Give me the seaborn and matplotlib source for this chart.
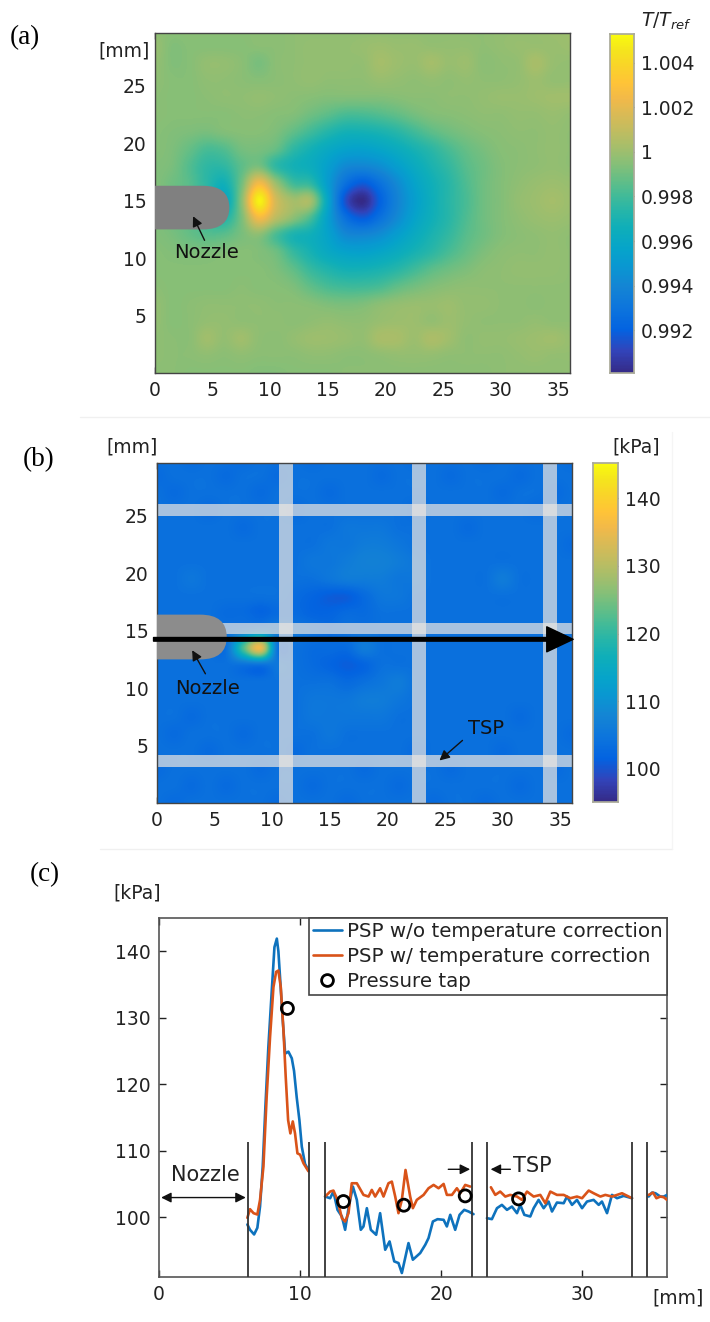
# temperature map, PSP pressure map and line profile, three stacked panels

import numpy as np
import pandas as pd
import seaborn as sns
import matplotlib.pyplot as plt
from matplotlib.colors import LinearSegmentedColormap
from matplotlib.lines import Line2D
from matplotlib.patches import PathPatch, Rectangle
from matplotlib.path import Path

W, H = 710, 1322

# matlab parula, some entries of the 64 colour table with their table index
parula_index = [1, 5, 9, 13, 17, 21, 24, 28, 31, 34, 37, 40, 43, 46, 49, 52, 55, 58, 61, 64]
parula = [(0.2081, 0.1663, 0.5292), (0.1959, 0.2645, 0.7279), (0.0117, 0.3875, 0.8820),
          (0.0498, 0.4586, 0.8641), (0.0793, 0.5200, 0.8312), (0.0343, 0.5966, 0.8199),
          (0.0231, 0.6418, 0.7913), (0.0590, 0.6838, 0.7254), (0.1453, 0.7098, 0.6646),
          (0.2586, 0.7317, 0.5954), (0.3953, 0.7459, 0.5244), (0.5300, 0.7491, 0.4661),
          (0.6473, 0.7456, 0.4188), (0.7525, 0.7384, 0.3768), (0.8507, 0.7299, 0.3360),
          (0.9450, 0.7261, 0.2886), (0.9990, 0.7653, 0.2164), (0.9789, 0.8271, 0.1633),
          (0.9589, 0.8949, 0.1132), (0.9763, 0.9831, 0.0538)]

# grid spacing 1.5 mm, columns x = 0..36, rows y = 30..0
grid_step = 1.5

# panel a, (T/Tref - 1) * 1e4
t_offset = [
    [-4, -4, -4, -4, -4, -4, -4, -4, -3, -3, -3, -3, -3, -3, -3, -3, -3, -3, -3, -3, -2, -2, -1, 0, 0],
    [-1, -6, -5, -5, -5, -5, -4, -4, -3, -2, -2, -2, -1, 0, -1, -1, -2, -2, -2, -3, -2, -1, -1, -1, 0],
    [-2, -6, -5, -2, -2, -4, -8, -4, -3, -2, -2, -2, -2, 2, 0, -1, 2, -1, 0, -4, -3, -2, 3, -1, -2],
    [-3, -5, -5, -3, -3, -4, -5, -4, -3, -2, -3, -3, -3, -1, -2, -3, -2, -3, -2, -3, -3, -2, 0, -2, -2],
    [-4, -5, -5, -4, -3, -3, -2, -3, -4, -5, -6, -6, -6, -6, -5, -4, -4, -3, -3, -2, -1, -1, 0, 1, 1],
    [-4, -5, -5, -5, -5, -4, -4, -5, -6, -10, -14, -18, -18, -16, -13, -9, -6, -5, -4, -3, -3, -2, -2, -1, -2],
    [-5, -6, -7, -8, -6, -5, -5, -7, -13, -20, -27, -32, -32, -30, -26, -20, -14, -10, -7, -5, -4, -3, -3, -2, -3],
    [-5, -7, -12, -18, -16, -9, -8, -12, -24, -32, -39, -44, -45, -42, -37, -31, -25, -18, -12, -8, -5, -4, -3, -2, -3],
    [-6, -8, -16, -24, -24, -14, -8, -24, -32, -36, -46, -58, -60, -56, -47, -38, -30, -23, -15, -10, -6, -4, -3, -2, -3],
    [-6, -10, -15, -25, -33, -10, 25, 0, -20, -24, -48, -72, -82, -72, -58, -44, -34, -26, -17, -10, -6, -3, -1, 0, -1],
    [-5, -10, -15, -25, -40, -5, 50, 15, 2, 2, -42, -85, -99, -80, -62, -47, -35, -26, -18, -10, -6, -2, 0, 2, 0],
    [-6, -10, -14, -22, -28, -8, 25, 8, -4, -18, -46, -72, -82, -72, -58, -44, -34, -26, -17, -10, -6, -3, -1, 0, -1],
    [-6, -8, -12, -15, -14, -8, -4, -18, -30, -34, -44, -58, -60, -56, -47, -38, -30, -23, -15, -10, -6, -4, -3, -2, -3],
    [-5, -6, -7, -7, -6, -5, -6, -10, -22, -31, -39, -44, -45, -42, -37, -31, -25, -18, -12, -7, -4, -3, -3, -2, -3],
    [-5, -5, -5, -5, -5, -5, -5, -7, -13, -22, -28, -32, -32, -30, -26, -20, -14, -10, -7, -4, -3, -2, -2, -2, -3],
    [-4, -5, -5, -5, -5, -4, -5, -5, -7, -13, -18, -20, -20, -18, -13, -9, -6, -4, -3, -3, -3, -3, -3, -3, -3],
    [-2, -5, -4, -3, -3, -3, -3, -4, -4, -5, -7, -8, -7, -4, -2, -1, -1, 0, -2, -2, -3, -3, -4, -3, -3],
    [-2, -5, -4, -2, -2, -3, -3, -3, -4, -3, -2, -3, -3, -1, 0, 0, -2, 0, -2, -3, -3, -3, -2, -3, -3],
    [-3, -4, -4, 1, -2, 1, -3, -4, -2, 0, 0, -1, -2, 3, 3, 0, 4, 1, -3, -2, -2, -1, 0, 1, -1],
    [-3, -4, -4, -3, -4, -3, -4, -4, -4, -3, -3, -4, -4, -3, -2, -2, -2, -3, -3, -3, -3, -2, -1, -2, -2],
    [-4, -4, -5, -5, -5, -5, -6, -6, -5, -5, -5, -4, -4, -4, -4, -4, -4, -4, -4, -4, -3, -3, -3, -3, -3],
]
t_ticks = [0.992, 0.994, 0.996, 0.998, 1, 1.002, 1.004]
t_ticklabels = ["0.992", "0.994", "0.996", "0.998", "1", "1.002", "1.004"]

# panel b, kPa
p_map = [
    [104, 104, 103, 104, 104, 103, 104, 104, 104, 103, 104, 104, 104, 104, 104, 103, 104, 104, 104, 103, 104, 104, 104, 104, 103],
    [103, 104, 104, 104, 103, 104, 104, 103, 104, 104, 104, 104, 104, 103, 104, 104, 104, 103, 104, 104, 104, 103, 104, 104, 104],
    [104, 103, 104, 104, 104, 104, 103, 104, 104, 104, 103, 104, 104, 104, 104, 104, 104, 104, 104, 104, 103, 104, 104, 103, 104],
    [104, 104, 104, 103, 104, 104, 104, 104, 103, 104, 104, 104, 104, 104, 104, 103, 104, 104, 104, 104, 104, 104, 103, 104, 104],
    [104, 104, 104, 104, 104, 103, 104, 104, 104, 104, 104, 105, 105, 105, 104, 104, 104, 104, 103, 104, 104, 104, 104, 104, 104],
    [104, 104, 104, 104, 104, 104, 104, 104, 104, 104, 105, 105, 106, 106, 105, 104, 104, 104, 104, 104, 104, 104, 104, 104, 103],
    [104, 104, 104, 104, 104, 104, 104, 104, 104, 105, 105, 106, 107, 107, 106, 105, 104, 104, 104, 104, 104, 104, 104, 104, 104],
    [104, 104, 105, 104, 104, 104, 104, 104, 104, 104, 105, 106, 106, 106, 105, 105, 104, 104, 104, 104, 106, 104, 104, 104, 104],
    [104, 104, 104, 104, 104, 104, 104, 104, 103, 102, 101, 101, 103, 105, 105, 104, 104, 104, 104, 104, 104, 104, 104, 104, 104],
    [104, 104, 104, 104, 103, 103, 102, 103, 103, 102, 102, 103, 103, 104, 104, 104, 104, 104, 104, 104, 104, 104, 104, 104, 104],
    [104, 104, 104, 104, 104, 106, 108, 106, 105, 104, 103, 104, 104, 104, 104, 104, 104, 104, 104, 104, 104, 104, 104, 104, 104],
    [104, 104, 104, 104, 104, 122, 135, 104, 104, 103, 103, 103, 106, 104, 104, 104, 104, 104, 104, 104, 104, 104, 104, 104, 104],
    [104, 104, 104, 104, 104, 104, 104, 105, 104, 103, 102, 101, 102, 104, 104, 104, 104, 104, 104, 104, 104, 104, 104, 104, 104],
    [104, 104, 104, 104, 104, 104, 104, 104, 104, 104, 104, 103, 104, 105, 106, 104, 104, 104, 104, 104, 104, 104, 104, 104, 104],
    [104, 104, 104, 104, 104, 104, 104, 104, 104, 105, 105, 105, 106, 106, 105, 104, 104, 104, 104, 104, 104, 104, 104, 104, 104],
    [104, 104, 103, 104, 104, 104, 104, 104, 104, 105, 105, 105, 105, 105, 104, 104, 104, 104, 104, 104, 104, 103, 104, 104, 104],
    [104, 103, 104, 104, 104, 103, 104, 104, 104, 104, 105, 104, 104, 104, 104, 104, 104, 104, 104, 104, 104, 104, 104, 104, 103],
    [104, 104, 104, 103, 104, 104, 104, 104, 103, 104, 104, 104, 104, 104, 104, 103, 104, 104, 104, 104, 103, 104, 104, 104, 104],
    [103, 104, 104, 104, 104, 104, 103, 104, 104, 104, 104, 104, 103, 104, 104, 104, 104, 103, 104, 104, 104, 104, 104, 103, 104],
    [104, 104, 103, 104, 103, 104, 104, 104, 104, 103, 104, 104, 104, 104, 103, 104, 104, 104, 104, 104, 104, 103, 104, 104, 104],
    [104, 103, 104, 104, 104, 104, 104, 103, 104, 104, 104, 103, 104, 104, 104, 104, 103, 104, 104, 103, 104, 104, 104, 104, 104],
]
p_ticks = [100, 110, 120, 130, 140]

# TSP strips in panel b, mm
tsp_vertical = [(10.6, 11.8), (22.1, 23.3), (33.5, 34.7)]
tsp_horizontal = [(0, 36, 25.0, 26.0), (5.5, 36, 14.7, 15.7), (0, 36, 3.15, 4.15)]

# panel c, profile along the centre line, split where a TSP strip interrupts it
blue_x = [
    [6.26, 6.45, 6.74, 6.97, 7.16, 7.35, 7.54, 7.75, 7.99, 8.18, 8.35, 8.46, 8.58, 8.77, 8.94, 9.17, 9.41, 9.57, 9.76, 9.95, 10.12, 10.35, 10.59],
    [11.77, 12.13, 12.36, 12.65, 12.96, 13.19, 13.43, 13.74, 14.02, 14.3, 14.49, 14.73, 15.01, 15.39, 15.67, 16.03, 16.34, 16.67, 16.97, 17.21, 17.68, 17.99, 18.51, 18.87, 19.1, 19.41, 19.74, 20.17, 20.4, 20.64, 20.99, 21.3, 21.63, 21.94, 22.29],
    [23.24, 23.59, 23.95, 24.3, 24.66, 25.01, 25.37, 25.6, 25.89, 26.31, 26.55, 26.9, 27.26, 27.61, 27.85, 28.2, 28.68, 28.91, 29.27, 29.62, 29.98, 30.33, 30.8, 31.16, 31.39, 31.75, 32.1, 32.46, 32.93, 33.52],
    [34.7, 34.94, 35.18, 35.53, 35.77, 36.0],
]
blue_y = [
    [98.9, 98.1, 97.4, 98.4, 101.6, 107.6, 116.6, 125.6, 134, 140.6, 141.9, 140, 136, 129.6, 124.6, 124.9, 123.9, 122, 118, 114.6, 110.6, 108, 107.1],
    [103.1, 102.85, 103.85, 101.1, 100.1, 98.1, 101.35, 104.6, 102.6, 98.1, 98.6, 101.35, 98.1, 97.35, 100.6, 95.1, 96.35, 93.35, 93.1, 91.6, 96.1, 93.6, 94.6, 95.85, 96.85, 99.35, 99.7, 99.6, 98.6, 100.35, 98.1, 100.35, 101.1, 100.85, 100.45],
    [99.85, 99.7, 101.35, 101.85, 101.1, 101.6, 100.6, 101.85, 100.35, 100.1, 101.35, 102.6, 101.35, 102.35, 100.85, 102.2, 102.1, 103.1, 101.85, 102.6, 101.35, 102.35, 102.6, 101.85, 102.35, 100.6, 103.35, 102.85, 103.2, 102.85],
    [103.1, 103.7, 103.6, 103.1, 103.1, 103.35],
]
orange_x = [
    [6.26, 6.45, 6.7, 6.97, 7.16, 7.4, 7.63, 7.87, 8.11, 8.3, 8.46, 8.63, 8.82, 8.98, 9.15, 9.31, 9.48, 9.64, 9.81, 10.0, 10.24, 10.59],
    [11.77, 12.13, 12.36, 12.65, 12.96, 13.19, 13.43, 13.66, 14.02, 14.49, 14.85, 15.08, 15.32, 15.67, 15.91, 16.26, 16.5, 16.74, 16.97, 17.21, 17.47, 17.8, 17.99, 18.27, 18.75, 19.1, 19.46, 19.81, 20.17, 20.4, 20.76, 21.11, 21.35, 21.7, 22.06],
    [23.52, 23.83, 24.18, 24.54, 24.89, 25.37, 25.72, 26.08, 26.55, 27.02, 27.38, 27.73, 28.2, 28.68, 29.15, 29.62, 29.98, 30.45, 30.8, 31.28, 31.63, 32.1, 32.46, 32.81, 33.52],
    [34.7, 35.01, 35.25, 35.53, 35.77, 36.0],
]
orange_y = [
    [99.9, 101.2, 100.6, 100.4, 102.6, 107.6, 118.1, 127.1, 134.6, 136.9, 137.1, 134.6, 128.1, 121.1, 114.6, 112.6, 114.4, 112.6, 109.6, 109.4, 108.1, 106.9],
    [103.1, 103.85, 104.0, 102.6, 99.85, 99.35, 100.6, 105.1, 105.1, 103.35, 103.1, 104.1, 103.1, 104.35, 103.1, 105.1, 105.35, 103.1, 100.6, 102.6, 107.1, 103.1, 101.35, 102.6, 103.35, 104.35, 104.85, 104.35, 105.0, 103.35, 103.35, 104.35, 103.6, 104.85, 104.6],
    [104.5, 103.35, 103.85, 103.1, 103.35, 103.1, 102.6, 103.85, 103.1, 103.35, 102.1, 103.85, 103.35, 103.35, 102.85, 103.1, 102.85, 104.0, 103.6, 103.1, 103.35, 103.1, 103.35, 103.6, 102.85],
    [103.35, 103.7, 102.85, 103.1, 103.0, 102.6],
]
tap_x = [9.1, 13.07, 17.35, 21.7, 25.48]
tap_y = [131.4, 102.35, 101.8, 103.2, 102.75]
strip_edges = [6.28, 10.65, 11.77, 22.2, 23.27, 33.5, 34.6]
label_blue = "PSP w/o temperature correction"
label_orange = "PSP w/ temperature correction"
label_tap = "Pressure tap"

sns.set_theme(style="ticks", rc={"axes.edgecolor": "#444444", "text.color": "#222222",
                                 "xtick.color": "#222222", "ytick.color": "#222222"})
plt.rcParams["font.family"] = ["DejaVu Sans"]
cmap = LinearSegmentedColormap.from_list("parula", [((i - 1) / 63, c) for i, c in zip(parula_index, parula)])


def px_box(left, top, right, bottom):
    return [left / W, 1 - bottom / H, (right - left) / W, (bottom - top) / H]


def cx(mm):
    return np.asarray(mm) / grid_step + 0.5


def cy(mm):
    return (30 - np.asarray(mm)) / grid_step + 0.5


def draw_map(box, cbox, values, vmin, vmax, cticks, clabels):
    ax = fig.add_axes(px_box(*box))
    cax = fig.add_axes(px_box(*cbox))
    df = pd.DataFrame(values, index=np.arange(30, -0.1, -grid_step),
                      columns=np.arange(0, 36.1, grid_step))
    sns.heatmap(df, ax=ax, cbar_ax=cax, cmap=cmap, vmin=vmin, vmax=vmax,
                xticklabels=False, yticklabels=False)
    # smooth rendering of the same cells
    ax.imshow(df.values, cmap=cmap, vmin=vmin, vmax=vmax, extent=(0, df.shape[1], df.shape[0], 0),
              interpolation="catrom", aspect="auto", zorder=1)
    ax.set_xlim(cx(0), cx(36))
    ax.set_ylim(cy(0), cy(29.6))
    ax.set_xticks(cx(np.arange(0, 36, 5)), [str(v) for v in range(0, 36, 5)])
    ax.set_yticks(cy(np.arange(5, 26, 5)), [str(v) for v in range(5, 26, 5)])
    ax.set_xlabel("")
    ax.set_ylabel("")
    ax.tick_params(direction="in", length=4, width=1, top=True, right=True, labelsize=13.5,
                   color="#222222", pad=6)
    for s in ax.spines.values():
        s.set_visible(True)
        s.set_color("#444444")
        s.set_linewidth(1)
    cax.set_yticks(cticks, clabels)
    cax.tick_params(direction="in", length=3, width=0.8, left=False, right=True, labelsize=13.5,
                    color="#555533", pad=5)
    for s in cax.spines.values():
        s.set_visible(True)
        s.set_color("#aaaa99")
    return ax


def draw_nozzle(ax, x_end, y_lo, y_hi, color):
    r = 2.3
    ym = (y_lo + y_hi) / 2
    pts = [(0, y_lo), (x_end - r, y_lo), (x_end, y_lo), (x_end, ym), (x_end, y_hi),
           (x_end - r, y_hi), (0, y_hi), (0, y_lo)]
    codes = [Path.MOVETO, Path.LINETO, Path.CURVE3, Path.CURVE3, Path.CURVE3, Path.CURVE3,
             Path.LINETO, Path.CLOSEPOLY]
    verts = [(cx(a), cy(b)) for a, b in pts]
    ax.add_patch(PathPatch(Path(verts, codes), facecolor=color, edgecolor="none", zorder=3))


def note(ax, text, txy, tail, tip, size=14):
    ax.text(cx(txy[0]), cy(txy[1]), text, ha="center", va="center", fontsize=size, color="#111111", zorder=6)
    ax.annotate("", xy=(cx(tip[0]), cy(tip[1])), xytext=(cx(tail[0]), cy(tail[1])), zorder=6,
                arrowprops=dict(arrowstyle="-|>", color="#111111", lw=1, mutation_scale=15, shrinkA=0, shrinkB=0))


fig = plt.figure(figsize=(W / 100, H / 100), dpi=100)

# light panel frames of the pasted images
fig.add_artist(Line2D([80 / W, 710 / W], [1 - 417 / H, 1 - 417 / H], color="#f0f0f0", lw=1))
fig.add_artist(Line2D([100 / W, 672 / W], [1 - 849 / H, 1 - 849 / H], color="#f0f0f0", lw=1))
fig.add_artist(Line2D([672 / W, 672 / W], [1 - 849 / H, 1 - 432 / H], color="#f5f5f5", lw=1))

# (a)
ax_a = draw_map((155, 33, 570, 373), (610, 34, 634, 373), 1 + np.array(t_offset) * 1e-4,
                0.99007, 1.0053, t_ticks, t_ticklabels)
draw_nozzle(ax_a, 6.45, 12.5, 16.3, "#808080")
note(ax_a, "Nozzle", (4.45, 10.45), (4.3, 11.55), (3.3, 13.65))

# (b)
ax_b = draw_map((157, 463, 572, 803), (593, 463, 618, 802), p_map, 95.1, 145.2,
                p_ticks, [str(v) for v in p_ticks])
for x0, x1 in tsp_vertical:
    ax_b.axvspan(cx(x0), cx(x1), color="#ece6e0", alpha=0.7, lw=0, zorder=2)
for x0, x1, y0, y1 in tsp_horizontal:
    ax_b.add_patch(Rectangle((cx(x0), cy(y1)), cx(x1) - cx(x0), cy(y0) - cy(y1), color="#ece6e0",
                             alpha=0.7, lw=0, zorder=2))
draw_nozzle(ax_b, 6.05, 12.5, 16.4, "#8c8c8c")
ax_b.annotate("", xy=(cx(36.1), cy(14.25)), xytext=(cx(-0.3), cy(14.25)), zorder=5, annotation_clip=False,
              arrowprops=dict(width=2.6, headwidth=18, headlength=19, color="black", shrink=0))
note(ax_b, "Nozzle", (4.4, 10.0), (4.2, 11.25), (3.05, 13.3))
note(ax_b, "TSP", (28.5, 6.5), (26.5, 5.45), (24.5, 3.7))

# (c)
rows = []
for name, xs, ys in (("blue", blue_x, blue_y), ("orange", orange_x, orange_y)):
    for i, (a, b) in enumerate(zip(xs, ys)):
        rows.append(pd.DataFrame({"x": a, "kPa": b, "series": name, "seg": f"{name}{i}"}))
profile = pd.concat(rows, ignore_index=True)

ax_c = fig.add_axes(px_box(159, 918, 667, 1277))
sns.lineplot(data=profile, x="x", y="kPa", hue="series", units="seg", estimator=None, sort=False,
             palette={"blue": "#0e72bd", "orange": "#d95319"}, lw=1.9, legend=False, ax=ax_c, zorder=3)
sns.scatterplot(x=tap_x, y=tap_y, ax=ax_c, s=75, facecolor="none", edgecolor="black", linewidth=2,
                zorder=5, clip_on=False)
ax_c.vlines(strip_edges, 91, 111.3, color="#333333", lw=1.3, zorder=4)
ax_c.set_xlim(0, 36)
ax_c.set_ylim(91, 145)
ax_c.set_xticks([0, 10, 20, 30])
ax_c.set_yticks([100, 110, 120, 130, 140])
ax_c.set_xlabel("")
ax_c.set_ylabel("")
ax_c.tick_params(direction="in", length=5, width=1, top=True, right=True, labelsize=13.5, pad=6)
for s in ax_c.spines.values():
    s.set_linewidth(1.2)
    s.set_color("#555555")
ax_c.annotate("", xy=(0.15, 102.95), xytext=(6.15, 102.95),
              arrowprops=dict(arrowstyle="<|-|>", color="#111111", lw=1, mutation_scale=15, shrinkA=0, shrinkB=0))
ax_c.text(3.26, 106.35, "Nozzle", ha="center", va="center", fontsize=15)
ax_c.annotate("", xy=(22.05, 107.2), xytext=(20.5, 107.2),
              arrowprops=dict(arrowstyle="-|>", color="#111111", lw=1, mutation_scale=15, shrinkA=0, shrinkB=0))
ax_c.annotate("", xy=(23.5, 107.2), xytext=(24.9, 107.2),
              arrowprops=dict(arrowstyle="-|>", color="#111111", lw=1, mutation_scale=15, shrinkA=0, shrinkB=0))
ax_c.text(25.1, 107.7, "TSP", ha="left", va="center", fontsize=15)
handles = [Line2D([], [], color="#0e72bd", lw=1.9), Line2D([], [], color="#d95319", lw=1.9),
           Line2D([], [], ls="", marker="o", mfc="none", mec="black", mew=2, ms=8.5)]
leg = ax_c.legend(handles, [label_blue, label_orange, label_tap], loc="upper right", bbox_to_anchor=(1.0, 1.0),
                  borderaxespad=0, fontsize=14.3, fancybox=False, framealpha=1, edgecolor="#444444",
                  handlelength=1.5, handletextpad=0.25, labelspacing=0.3, borderpad=0.2)
leg.get_frame().set_linewidth(1.2)
leg.set_zorder(10)

# panel letters and unit labels, placed in figure pixels
for s, x, y in (("(a)", 10, 38), ("(b)", 23, 460), ("(c)", 30, 875)):
    fig.text(x / W, 1 - y / H, s, family="Liberation Serif", fontsize=19.5, va="center", color="black")
for s, x, y in (("[mm]", 124, 51), ("[mm]", 132, 447), ("[kPa]", 636, 447), ("[kPa]", 137, 893), ("[mm]", 678, 1298)):
    fig.text(x / W, 1 - y / H, s, fontsize=13.5, ha="center", va="center", color="#222222")
fig.text(666 / W, 1 - 21 / H, r"$\mathit{T/T_{ref}}$", fontsize=13.5, ha="center", va="center",
         math_fontfamily="dejavusans")

fig.savefig("out.png", dpi=100)
